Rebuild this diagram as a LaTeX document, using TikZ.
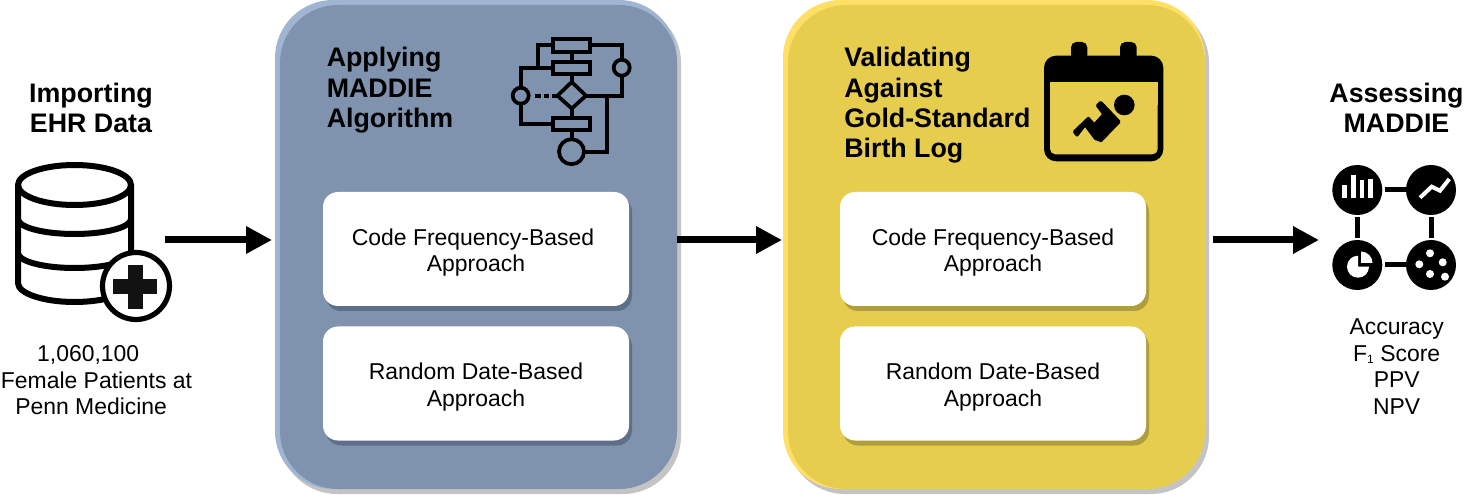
\documentclass[tikz,border=0pt]{standalone}
\usepackage{fontspec}
\setmainfont{Liberation Sans}
\usetikzlibrary{arrows.meta,shadows}
\definecolor{bluemain}{HTML}{7F93AE}
\definecolor{bluelight}{HTML}{A0B5D2}
\definecolor{blueshade}{HTML}{5E7088}
\definecolor{yelmain}{HTML}{E6CD4E}
\definecolor{yellight}{HTML}{FFDF66}
\definecolor{yelshade}{HTML}{B09D3B}
\definecolor{panelshade}{HTML}{C4C4C4}
\definecolor{inkblack}{HTML}{000000}
\newcommand{\lowerstrut}{\rule{0pt}{18pt}}
\tikzset{
  px/.style={x=0.75pt,y=-0.75pt},
  headtext/.style={font=\fontsize{20.1}{22.8}\selectfont\bfseries,inner sep=0pt,text=inkblack},
  bodytext/.style={font=\fontsize{17.2}{19.9}\selectfont,inner sep=0pt,align=center,text=inkblack},
  panelround/.style={rounded corners=43.5pt},
  approachbox/.style={bodytext,fill=white,rounded corners=11.25pt,minimum width=229.5pt,minimum height=85.5pt,
     general shadow={fill=#1,shadow xshift=2.25pt,shadow yshift=-3.75pt}},
  bigarrow/.style={line width=5.25pt,-{Triangle[length=19.5pt,width=19.5pt]},draw=inkblack},
  iconline/.style={line width=2.8pt,draw=inkblack,line join=miter},
  dbline/.style={line width=4.5pt,draw=inkblack},
  metriclink/.style={line width=3.75pt,draw=inkblack},
  metricdisc/.style={circle,fill=inkblack,inner sep=0pt,minimum size=37.5pt},
  whitemark/.style={fill=white,draw=none},
}
\begin{document}
\begin{tikzpicture}[px]
\useasboundingbox (0,0) rectangle (1464,495);
\fill[white] (0,0) rectangle (1464,495);

% blue panel
\fill[panelshade,panelround] (279,5) rectangle (681,494);
\fill[bluelight,panelround] (275,0) rectangle (677,489);
\fill[bluemain,panelround] (280,5) rectangle (677,489);
% yellow panel
\fill[panelshade,panelround] (787,5) rectangle (1209,494);
\fill[yellight,panelround] (783,0) rectangle (1205,489);
\fill[yelmain,panelround] (788,5) rectangle (1205,489);

% headings
\node[headtext,align=center,anchor=north] (importhead) at (91,82.5) {Importing\\EHR Data};
\node[headtext,align=left,anchor=north west] (applyhead) at (326.5,47) {Applying\\MADDIE\\Algorithm};
\node[headtext,align=left,anchor=north west] (validhead) at (844,47) {Validating\\Against\\Gold-Standard\\Birth Log};
\node[headtext,align=center,anchor=north] (assesshead) at (1396.5,82.5) {Assessing\\MADDIE};

% boxes
\node[approachbox=blueshade] (bluecode) at (476,249) {\lowerstrut Code Frequency-Based\hspace*{4.5pt}\\Approach};
\node[approachbox=blueshade] (bluerand) at (476,383.5) {\lowerstrut Random Date-Based\\Approach};
\node[approachbox=yelshade] (yelcode) at (993,249) {\lowerstrut Code Frequency-Based\\Approach};
\node[approachbox=yelshade] (yelrand) at (993,383.5) {\lowerstrut Random Date-Based\\Approach};

% captions
\node[bodytext,anchor=north] (patients) at (96.5,345.5) {1,060,100\hspace*{12.5pt}\\Female Patients at\\Penn Medicine\hspace*{8pt}};
\node[bodytext,anchor=north] (metrics) at (1396.7,318.5) {Accuracy\\F\raisebox{-1.5pt}{\fontsize{9}{9}\selectfont 1} Score\hspace*{9pt}\\PPV\\NPV};

% arrows
\coordinate (a1s) at (165,240); \coordinate (a1e) at (272,240);
\coordinate (a2s) at (677,240); \coordinate (a2e) at (782,240);
\coordinate (a3s) at (1213,240); \coordinate (a3e) at (1319,240);
\draw[bigarrow] (a1s) -- (a1e);
\draw[bigarrow] (a2s) -- (a2e);
\draw[bigarrow] (a3s) -- (a3e);

% database icon
\draw[dbline] (74.5,185) ellipse [x radius=56.5,y radius=20];
\draw[dbline] (18,185) -- (18,283) arc[start angle=180,end angle=0,x radius=56.5,y radius=19] -- (131,185);
\draw[dbline] (18,219) arc[start angle=180,end angle=0,x radius=56.5,y radius=15];
\draw[dbline] (18,253) arc[start angle=180,end angle=0,x radius=56.5,y radius=15];
\draw[line width=3.9pt,draw=inkblack,fill=white] (136,286) circle[radius=33.5];
\fill[black!93] (127.5,265) rectangle (143,309);
\fill[black!93] (112.5,279.5) rectangle (157,294.5);

% flowchart icon
\draw[iconline] (553,39) rectangle (590,52);
\draw[iconline] (553,62) rectangle (590,74);
\draw[iconline] (553,118) rectangle (590,130);
\draw[iconline] (571.7,52) -- (571.7,62);
\draw[iconline] (571.7,74) -- (571.7,82);
\draw[iconline] (571.7,82) -- (586,95.7) -- (571.7,108.5) -- (557.5,95.7) -- cycle;
\draw[iconline] (571.7,108.5) -- (571.7,118);
\draw[iconline] (571.7,130) -- (571.7,139);
\draw[iconline] (571.5,151.7) circle[radius=12.5];
\draw[iconline] (553,45) -- (537.7,45) -- (537.7,67.7);
\draw[iconline] (553,67.7) -- (520.7,67.7) -- (520.7,87.7);
\draw[iconline] (520.7,95.7) circle[radius=8];
\draw[iconline] (520.7,103.7) -- (520.7,124) -- (553,124);
\draw[iconline] (590,45) -- (621.7,45) -- (621.7,59.7);
\draw[iconline] (621.7,67.7) circle[radius=8];
\draw[iconline] (621.7,75.7) -- (621.7,95.7) -- (586,95.7);
\draw[iconline] (607.3,95.7) -- (607.3,151.7) -- (584,151.7);
\draw[line width=3.2pt,draw=inkblack] (535,95.7) -- (541,95.7);
\draw[line width=3.2pt,draw=inkblack] (543.5,95.7) -- (549,95.7);
\draw[line width=3.2pt,draw=inkblack] (552,95.7) -- (557,95.7);

% calendar icon
\fill[inkblack,rounded corners=9pt] (1044,55.7) rectangle (1163.3,161.3);
\fill[inkblack,rounded corners=4pt] (1071,42) rectangle (1087.3,70);
\fill[inkblack,rounded corners=4pt] (1120,42) rectangle (1136.7,70);
\fill[yelmain,rounded corners=4pt] (1050,100) -- (1050,154.3) -- (1157.7,154.3) -- (1157.7,100) -- cycle;
\fill[yelmain] (1050,81.7) rectangle (1157.7,105);
\fill[inkblack] (1124.3,105) circle[radius=10.3];
\filldraw[inkblack,line width=2.4pt,line join=round]
  (1097.5,105.5) -- (1100.7,102.5) -- (1119,121.7) -- (1101,140.5) -- (1095.5,138.5)
  -- (1085,124.5) -- (1077,135) -- (1074.5,131.7) -- (1088.3,118.5) -- (1094.3,125) -- (1104,114.3) -- cycle;

% metrics icon
\node[metricdisc] (discbar) at (1357.3,190) {};
\node[metricdisc] (disctrend) at (1431,190) {};
\node[metricdisc] (discpie) at (1357.3,265) {};
\node[metricdisc] (discdots) at (1431,265) {};
\coordinate (l1a) at (1385,190); \coordinate (l1b) at (1406.7,190);
\coordinate (l2a) at (1385,265); \coordinate (l2b) at (1406.7,265);
\coordinate (l3a) at (1357.3,217); \coordinate (l3b) at (1357.3,238.5);
\coordinate (l4a) at (1431,217); \coordinate (l4b) at (1431,238.5);
\draw[metriclink] (l1a) -- (l1b);
\draw[metriclink] (l2a) -- (l2b);
\draw[metriclink] (l3a) -- (l3b);
\draw[metriclink] (l4a) -- (l4b);
\fill[whitemark] (1342.3,185) rectangle (1347,197.7);
\fill[whitemark] (1351,175) rectangle (1355.7,197.7);
\fill[whitemark] (1359.7,180) rectangle (1364.3,197.7);
\fill[whitemark] (1368.3,179) rectangle (1373,197.7);
\draw[white,line width=3pt] (1420,197.7) -- (1431.7,186.7) -- (1440,190.7) -- (1449.3,179);
\fill[whitemark] (1358,266.7) -- (1358,255.7) arc[start angle=-90,end angle=-360,radius=11] -- cycle;
\fill[whitemark] (1361,263) -- (1361,251.5) arc[start angle=-90,end angle=0,radius=11.5] -- cycle;
\fill[whitemark] (1430,253.3) circle[radius=4];
\fill[whitemark] (1442.7,262.3) circle[radius=4];
\fill[whitemark] (1419.3,264.3) circle[radius=4];
\fill[whitemark] (1430,274) circle[radius=4];
\fill[whitemark] (1445,276.7) circle[radius=4];
\end{tikzpicture}
\end{document}
